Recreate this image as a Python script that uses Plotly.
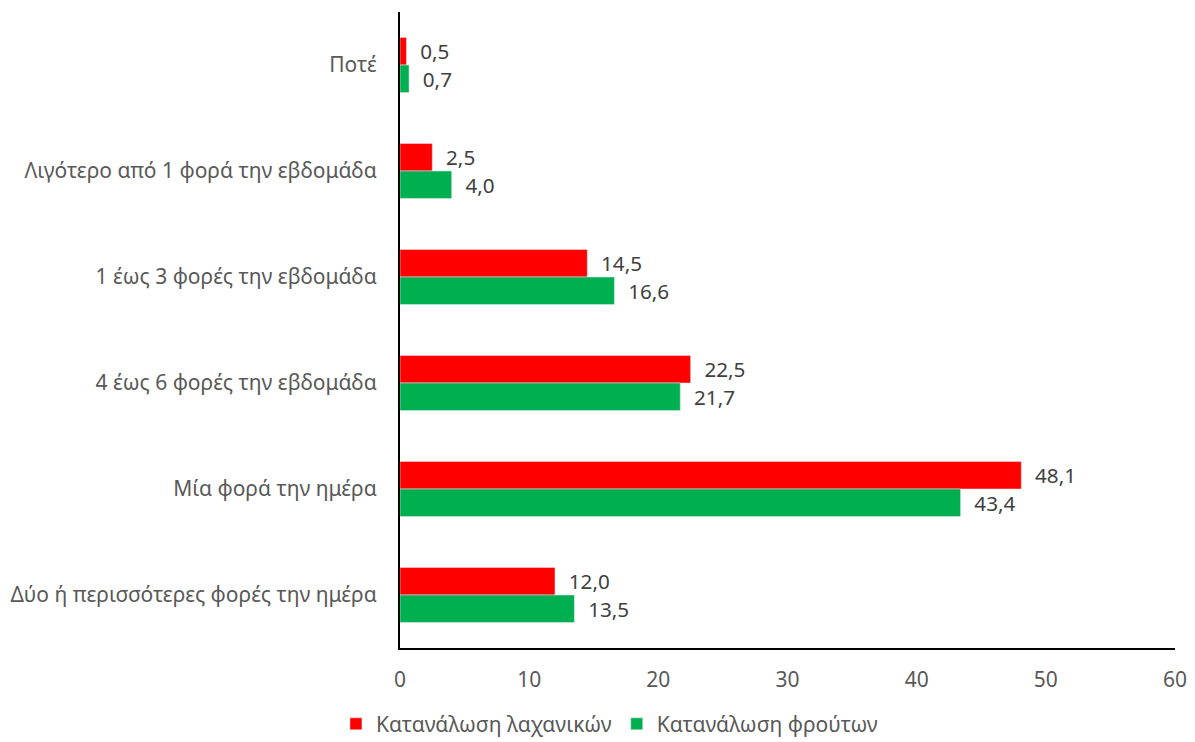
import plotly.graph_objects as go

categories = [
    "Ποτέ",
    "Λιγότερο από 1 φορά την εβδομάδα",
    "1 έως 3 φορές την εβδομάδα",
    "4 έως 6 φορές την εβδομάδα",
    "Μία φορά την ημέρα",
    "Δύο ή περισσότερες φορές την ημέρα",
]
vegetables = [0.5, 2.5, 14.5, 22.5, 48.1, 12.0]
fruits = [0.7, 4.0, 16.6, 21.7, 43.4, 13.5]
x_ticks = [0, 10, 20, 30, 40, 50, 60]

FONT = "Noto Sans"
SIZE = 21
TEXT_GREY = "#404040"
TICK_GREY = "#595959"

fig = go.Figure()
fig.add_trace(go.Bar(
    y=categories, x=vegetables, orientation="h",
    name="Κατανάλωση λαχανικών", marker_color="#FF0000",
    texttemplate="  %{x:.1f}", textposition="outside",
    textfont=dict(size=SIZE, color=TEXT_GREY, family=FONT),
    cliponaxis=False,
))
fig.add_trace(go.Bar(
    y=categories, x=fruits, orientation="h",
    name="Κατανάλωση φρούτων", marker_color="#00B050",
    texttemplate="  %{x:.1f}", textposition="outside",
    textfont=dict(size=SIZE, color=TEXT_GREY, family=FONT),
    cliponaxis=False,
))

fig.update_layout(
    width=1195, height=742,
    margin=dict(l=400, r=20, t=12, b=94, autoexpand=False),
    barmode="group", bargap=0.48, bargroupgap=0,
    separators=",.",
    paper_bgcolor="white", plot_bgcolor="white",
    font=dict(family=FONT, size=SIZE, color=TICK_GREY),
    showlegend=True,
    legend=dict(
        orientation="h", xref="container", yref="container",
        x=0.51, xanchor="center", y=0.024, yanchor="middle",
        font=dict(size=SIZE, color=TICK_GREY, family=FONT),
        traceorder="normal", itemwidth=30,
    ),
    uniformtext=dict(mode=False),
)
fig.update_xaxes(
    range=[0, 60], tickvals=x_ticks, showgrid=False, zeroline=False,
    showline=True, linecolor="black", linewidth=2,
    ticks="", ticklabelstandoff=12, automargin=False,
    tickfont=dict(size=SIZE, color=TICK_GREY, family=FONT),
)
fig.update_yaxes(
    categoryorder="array", categoryarray=categories, autorange="reversed",
    showgrid=False, zeroline=False,
    showline=True, linecolor="black", linewidth=2,
    ticks="", ticklabelstandoff=17, automargin=False,
    tickfont=dict(size=SIZE, color=TICK_GREY, family=FONT),
)

fig.write_html("out.html")
